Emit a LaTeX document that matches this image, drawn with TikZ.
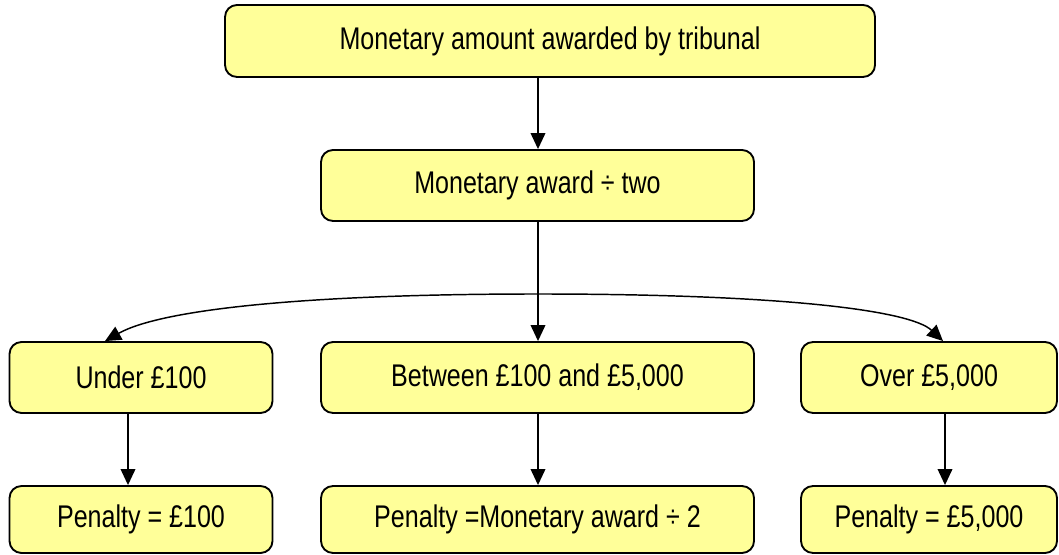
\documentclass[tikz,border=0pt]{standalone}
\usepackage{fontspec}
\setmainfont{Liberation Sans}[FakeStretch=0.80]
\usetikzlibrary{arrows.meta}
\definecolor{boxfill}{HTML}{FFFF99}
\tikzset{
  box/.style={draw=black, line width=1.4pt, fill=boxfill, rounded corners=9pt,
    font=\fontsize{23.5pt}{26pt}\selectfont, inner sep=0pt},
  conn/.style={line width=1.1pt, -{Triangle[length=12pt,width=11pt]}}
}
\begin{document}
\begin{tikzpicture}[x=0.75pt,y=-0.75pt]
\useasboundingbox (0,0) rectangle (1059,555);
\node[box, minimum width=650*0.75pt, minimum height=72*0.75pt] (top) at (550,41) {Monetary amount awarded by tribunal};
\node[box, minimum width=433*0.75pt, minimum height=71*0.75pt] (half) at (537.5,185.5) {Monetary award ÷ two};
\node[box, minimum width=263*0.75pt, minimum height=71*0.75pt] (under) at (141,377.5) {Under £100};
\node[box, minimum width=433*0.75pt, minimum height=71*0.75pt] (between) at (537.5,377.5) {Between £100 and £5,000};
\node[box, minimum width=256*0.75pt, minimum height=71*0.75pt] (over) at (929,377.5) {Over £5,000};
\node[box, minimum width=263*0.75pt, minimum height=67*0.75pt] (pu) at (141,519.5) {Penalty = £100};
\node[box, minimum width=433*0.75pt, minimum height=67*0.75pt] (pb) at (537.5,519.5) {Penalty =Monetary award ÷ 2};
\node[box, minimum width=256*0.75pt, minimum height=67*0.75pt] (po) at (929,519.5) {Penalty = £5,000};
\coordinate (split) at (538,294);
\draw[conn] (top.south -| split) -- (half.north -| split);
\draw[line width=1.1pt] (half.south -| split) -- (split);
\draw[conn] (split) -- (between.north -| split);
\draw[conn] (split) .. controls (300,294) and (160,310) .. (under.north -| 105,0);
\draw[conn] (split) .. controls (780,294) and (910,310) .. (over.north -| 943,0);
\draw[conn] (under.south -| 128,0) -- (pu.north -| 128,0);
\draw[conn] (between.south -| split) -- (pb.north -| split);
\draw[conn] (over.south -| 945,0) -- (po.north -| 945,0);
\end{tikzpicture}
\end{document}
